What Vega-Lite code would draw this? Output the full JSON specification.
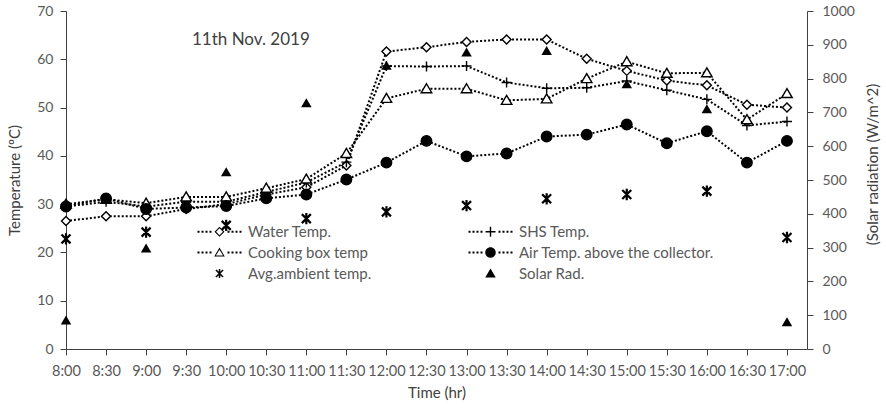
{
  "$schema": "https://vega.github.io/schema/vega-lite/v6.json",
  "description": "Temperatures and solar radiation on 11th Nov. 2019.",
  "width": 741,
  "height": 338,
  "autosize": {"type": "none"},
  "padding": {"left": 66, "top": 11, "right": 79, "bottom": 60},
  "background": "white",
  "title": {
    "text": "11th Nov. 2019",
    "anchor": "start",
    "frame": "group",
    "offset": 0,
    "dx": 126,
    "dy": 45,
    "font": "Lato",
    "fontSize": 17,
    "fontWeight": "normal",
    "color": "#404040"
  },
  "data": {
    "values": [
      {"time": 8, "series": "Water Temp.", "value": 26.5},
      {"time": 8.5, "series": "Water Temp.", "value": 27.5},
      {"time": 9, "series": "Water Temp.", "value": 27.5},
      {"time": 9.5, "series": "Water Temp.", "value": 29.0},
      {"time": 10, "series": "Water Temp.", "value": 30.0},
      {"time": 10.5, "series": "Water Temp.", "value": 32.0},
      {"time": 11, "series": "Water Temp.", "value": 33.5},
      {"time": 11.5, "series": "Water Temp.", "value": 38.0},
      {"time": 12, "series": "Water Temp.", "value": 61.6},
      {"time": 12.5, "series": "Water Temp.", "value": 62.5},
      {"time": 13, "series": "Water Temp.", "value": 63.6},
      {"time": 13.5, "series": "Water Temp.", "value": 64.1},
      {"time": 14, "series": "Water Temp.", "value": 64.1},
      {"time": 14.5, "series": "Water Temp.", "value": 60.1},
      {"time": 15, "series": "Water Temp.", "value": 57.6},
      {"time": 15.5, "series": "Water Temp.", "value": 55.6},
      {"time": 16, "series": "Water Temp.", "value": 54.6},
      {"time": 16.5, "series": "Water Temp.", "value": 50.6},
      {"time": 17, "series": "Water Temp.", "value": 50.0},
      {"time": 8, "series": "SHS Temp.", "value": 29.5},
      {"time": 8.5, "series": "SHS Temp.", "value": 30.5},
      {"time": 9, "series": "SHS Temp.", "value": 29.5},
      {"time": 9.5, "series": "SHS Temp.", "value": 30.5},
      {"time": 10, "series": "SHS Temp.", "value": 30.5},
      {"time": 10.5, "series": "SHS Temp.", "value": 32.5},
      {"time": 11, "series": "SHS Temp.", "value": 34.5},
      {"time": 11.5, "series": "SHS Temp.", "value": 38.7},
      {"time": 12, "series": "SHS Temp.", "value": 58.6},
      {"time": 12.5, "series": "SHS Temp.", "value": 58.5},
      {"time": 13, "series": "SHS Temp.", "value": 58.6},
      {"time": 13.5, "series": "SHS Temp.", "value": 55.2},
      {"time": 14, "series": "SHS Temp.", "value": 54.0},
      {"time": 14.5, "series": "SHS Temp.", "value": 54.1},
      {"time": 15, "series": "SHS Temp.", "value": 55.5},
      {"time": 15.5, "series": "SHS Temp.", "value": 53.6},
      {"time": 16, "series": "SHS Temp.", "value": 51.7},
      {"time": 16.5, "series": "SHS Temp.", "value": 46.3},
      {"time": 17, "series": "SHS Temp.", "value": 47.1},
      {"time": 8, "series": "Cooking box temp", "value": 30.0},
      {"time": 8.5, "series": "Cooking box temp", "value": 31.0},
      {"time": 9, "series": "Cooking box temp", "value": 30.2},
      {"time": 9.5, "series": "Cooking box temp", "value": 31.5},
      {"time": 10, "series": "Cooking box temp", "value": 31.5},
      {"time": 10.5, "series": "Cooking box temp", "value": 33.3},
      {"time": 11, "series": "Cooking box temp", "value": 35.2},
      {"time": 11.5, "series": "Cooking box temp", "value": 40.5},
      {"time": 12, "series": "Cooking box temp", "value": 51.9},
      {"time": 12.5, "series": "Cooking box temp", "value": 53.9},
      {"time": 13, "series": "Cooking box temp", "value": 53.9},
      {"time": 13.5, "series": "Cooking box temp", "value": 51.5},
      {"time": 14, "series": "Cooking box temp", "value": 51.8},
      {"time": 14.5, "series": "Cooking box temp", "value": 56.0},
      {"time": 15, "series": "Cooking box temp", "value": 59.5},
      {"time": 15.5, "series": "Cooking box temp", "value": 57.1},
      {"time": 16, "series": "Cooking box temp", "value": 57.2},
      {"time": 16.5, "series": "Cooking box temp", "value": 47.5},
      {"time": 17, "series": "Cooking box temp", "value": 52.9},
      {"time": 8, "series": "Air Temp. above the collector.", "value": 29.5},
      {"time": 8.5, "series": "Air Temp. above the collector.", "value": 31.2},
      {"time": 9, "series": "Air Temp. above the collector.", "value": 29.0},
      {"time": 9.5, "series": "Air Temp. above the collector.", "value": 29.3},
      {"time": 10, "series": "Air Temp. above the collector.", "value": 29.6},
      {"time": 10.5, "series": "Air Temp. above the collector.", "value": 31.2},
      {"time": 11, "series": "Air Temp. above the collector.", "value": 32.0},
      {"time": 11.5, "series": "Air Temp. above the collector.", "value": 35.1},
      {"time": 12, "series": "Air Temp. above the collector.", "value": 38.6},
      {"time": 12.5, "series": "Air Temp. above the collector.", "value": 43.1},
      {"time": 13, "series": "Air Temp. above the collector.", "value": 39.9},
      {"time": 13.5, "series": "Air Temp. above the collector.", "value": 40.5},
      {"time": 14, "series": "Air Temp. above the collector.", "value": 44.0},
      {"time": 14.5, "series": "Air Temp. above the collector.", "value": 44.4},
      {"time": 15, "series": "Air Temp. above the collector.", "value": 46.5},
      {"time": 15.5, "series": "Air Temp. above the collector.", "value": 42.6},
      {"time": 16, "series": "Air Temp. above the collector.", "value": 45.1},
      {"time": 16.5, "series": "Air Temp. above the collector.", "value": 38.6},
      {"time": 17, "series": "Air Temp. above the collector.", "value": 43.1},
      {"time": 8, "series": "Avg.ambient temp.", "value": 22.8},
      {"time": 9, "series": "Avg.ambient temp.", "value": 24.2},
      {"time": 10, "series": "Avg.ambient temp.", "value": 25.6},
      {"time": 11, "series": "Avg.ambient temp.", "value": 27.0},
      {"time": 12, "series": "Avg.ambient temp.", "value": 28.4},
      {"time": 13, "series": "Avg.ambient temp.", "value": 29.7},
      {"time": 14, "series": "Avg.ambient temp.", "value": 31.1},
      {"time": 15, "series": "Avg.ambient temp.", "value": 32.0},
      {"time": 16, "series": "Avg.ambient temp.", "value": 32.7},
      {"time": 17, "series": "Avg.ambient temp.", "value": 23.1},
      {"time": 8, "series": "Solar Rad.", "value": 84},
      {"time": 9, "series": "Solar Rad.", "value": 297},
      {"time": 10, "series": "Solar Rad.", "value": 523},
      {"time": 11, "series": "Solar Rad.", "value": 727},
      {"time": 12, "series": "Solar Rad.", "value": 838},
      {"time": 13, "series": "Solar Rad.", "value": 877},
      {"time": 14, "series": "Solar Rad.", "value": 882},
      {"time": 15, "series": "Solar Rad.", "value": 783},
      {"time": 16, "series": "Solar Rad.", "value": 709},
      {"time": 17, "series": "Solar Rad.", "value": 79}
    ]
  },
  "layer": [
    {
      "layer": [
        {
          "transform": [
            {"filter": {"field": "series", "oneOf": ["Water Temp.", "SHS Temp.", "Cooking box temp", "Air Temp. above the collector."]}}
          ],
          "mark": {"type": "line", "color": "black", "strokeWidth": 2, "strokeDash": [2, 2]},
          "encoding": {
            "x": {
              "field": "time",
              "type": "quantitative",
              "scale": {"domain": [8, 17.25], "nice": false, "zero": false},
              "axis": {
                "title": "Time (hr)",
                "values": [8, 8.5, 9, 9.5, 10, 10.5, 11, 11.5, 12, 12.5, 13, 13.5, 14, 14.5, 15, 15.5, 16, 16.5, 17],
                "labelExpr": "floor(datum.value) + ':' + (datum.value % 1 ? '30' : '00')",
                "labelOverlap": false,
                "labelFlush": false,
                "labelBound": false
              }
            },
            "y": {
              "field": "value",
              "type": "quantitative",
              "scale": {"domain": [0, 70], "nice": false},
              "axis": {"title": "Temperature (ºC)", "values": [0, 10, 20, 30, 40, 50, 60, 70]}
            },
            "detail": {"field": "series"}
          }
        },
        {
          "transform": [{"filter": "datum.series != 'Solar Rad.'"}],
          "mark": {"type": "point", "filled": true, "stroke": "black", "strokeWidth": 1.4, "opacity": 1, "size": 100},
          "encoding": {
            "x": {"field": "time", "type": "quantitative"},
            "y": {"field": "value", "type": "quantitative"},
            "shape": {
              "field": "series",
              "type": "nominal",
              "scale": {
                "domain": ["Water Temp.", "SHS Temp.", "Cooking box temp", "Air Temp. above the collector.", "Avg.ambient temp."],
                "range": [
                  "M0,-0.9L0.9,0L0,0.9L-0.9,0Z",
                  "M-1,0L1,0M0,-1L0,1",
                  "M0,-1L1.05,0.8L-1.05,0.8Z",
                  "M-1.05,0A1.05,1.05,0,1,0,1.05,0A1.05,1.05,0,1,0,-1.05,0Z",
                  "M-0.08,-1L0.08,-1L0.08,1L-0.08,1Z M-0.857,-0.743L-0.743,-0.857L0.857,0.743L0.743,0.857Z M0.743,-0.857L0.857,-0.743L-0.743,0.857L-0.857,0.743Z"
                ]
              },
              "legend": null
            },
            "fill": {
              "field": "series",
              "type": "nominal",
              "scale": {
                "domain": ["Water Temp.", "SHS Temp.", "Cooking box temp", "Air Temp. above the collector.", "Avg.ambient temp."],
                "range": ["white", "transparent", "white", "black", "black"]
              },
              "legend": null
            }
          }
        },
        {
          "mark": {"type": "point", "filled": true, "fill": "black", "opacity": 0, "size": 100},
          "encoding": {
            "shape": {
              "field": "series",
              "type": "nominal",
              "scale": {
                "domain": ["Water Temp.", "Cooking box temp", "Avg.ambient temp.", "SHS Temp.", "Air Temp. above the collector.", "Solar Rad."],
                "range": [
                  "M-4.4,-0.2L-4,-0.2L-4,0.2L-4.4,0.2Z M-3.6,-0.2L-3.2,-0.2L-3.2,0.2L-3.6,0.2Z M-2.8,-0.2L-2.4,-0.2L-2.4,0.2L-2.8,0.2Z M-2,-0.2L-1.6,-0.2L-1.6,0.2L-2,0.2Z M1.6,-0.2L2,-0.2L2,0.2L1.6,0.2Z M2.4,-0.2L2.8,-0.2L2.8,0.2L2.4,0.2Z M3.2,-0.2L3.6,-0.2L3.6,0.2L3.2,0.2Z M4,-0.2L4.4,-0.2L4.4,0.2L4,0.2Z M0,-1L1,0L0,1L-1,0Z M0,-0.68L-0.68,0L0,0.68L0.68,0Z",
                  "M-4.4,-0.2L-4,-0.2L-4,0.2L-4.4,0.2Z M-3.6,-0.2L-3.2,-0.2L-3.2,0.2L-3.6,0.2Z M-2.8,-0.2L-2.4,-0.2L-2.4,0.2L-2.8,0.2Z M-2,-0.2L-1.6,-0.2L-1.6,0.2L-2,0.2Z M1.6,-0.2L2,-0.2L2,0.2L1.6,0.2Z M2.4,-0.2L2.8,-0.2L2.8,0.2L2.4,0.2Z M3.2,-0.2L3.6,-0.2L3.6,0.2L3.2,0.2Z M4,-0.2L4.4,-0.2L4.4,0.2L4,0.2Z M0,-1L1.05,0.8L-1.05,0.8Z M0,-0.55L-0.72,0.62L0.72,0.62Z",
                  "M-4.4,0L-4.4,0Z M4.4,0L4.4,0Z M-0.15,-0.9L0.15,-0.9L0.15,0.9L-0.15,0.9Z M-0.82,-0.6L-0.6,-0.82L0.82,0.6L0.6,0.82Z M0.6,-0.82L0.82,-0.6L-0.6,0.82L-0.82,0.6Z",
                  "M-4.4,-0.2L-4,-0.2L-4,0.2L-4.4,0.2Z M-3.6,-0.2L-3.2,-0.2L-3.2,0.2L-3.6,0.2Z M-2.8,-0.2L-2.4,-0.2L-2.4,0.2L-2.8,0.2Z M-2,-0.2L-1.6,-0.2L-1.6,0.2L-2,0.2Z M1.6,-0.2L2,-0.2L2,0.2L1.6,0.2Z M2.4,-0.2L2.8,-0.2L2.8,0.2L2.4,0.2Z M3.2,-0.2L3.6,-0.2L3.6,0.2L3.2,0.2Z M4,-0.2L4.4,-0.2L4.4,0.2L4,0.2Z M-1,-0.14L1,-0.14L1,0.14L-1,0.14Z M-0.14,-1L0.14,-1L0.14,1L-0.14,1Z",
                  "M-4.4,-0.2L-4,-0.2L-4,0.2L-4.4,0.2Z M-3.6,-0.2L-3.2,-0.2L-3.2,0.2L-3.6,0.2Z M-2.8,-0.2L-2.4,-0.2L-2.4,0.2L-2.8,0.2Z M-2,-0.2L-1.6,-0.2L-1.6,0.2L-2,0.2Z M1.6,-0.2L2,-0.2L2,0.2L1.6,0.2Z M2.4,-0.2L2.8,-0.2L2.8,0.2L2.4,0.2Z M3.2,-0.2L3.6,-0.2L3.6,0.2L3.2,0.2Z M4,-0.2L4.4,-0.2L4.4,0.2L4,0.2Z M-1.05,0A1.05,1.05,0,1,0,1.05,0A1.05,1.05,0,1,0,-1.05,0Z",
                  "M-4.4,0L-4.4,0Z M4.4,0L4.4,0Z M0,-1L1.05,0.8L-1.05,0.8Z"
                ]
              },
              "legend": {
                "title": null,
                "orient": "none",
                "legendX": 146,
                "legendY": 213,
                "columns": 2,
                "columnPadding": 96,
                "rowPadding": 5,
                "symbolSize": 100,
                "symbolFillColor": "black",
                "symbolStrokeColor": "transparent",
                "symbolStrokeWidth": 0,
                "symbolOpacity": 1,
                "labelOffset": 21,
                "labelFont": "Lato",
                "labelFontSize": 15,
                "labelColor": "#595959",
                "labelLimit": 300,
                "padding": 0
              }
            }
          }
        }
      ],
      "resolve": {"scale": {"shape": "independent", "fill": "independent"}, "legend": {"shape": "independent"}}
    },
    {
      "transform": [{"filter": "datum.series == 'Solar Rad.'"}],
      "mark": {"type": "point", "shape": "M0,-1L1.05,0.8L-1.05,0.8Z", "filled": true, "color": "black", "opacity": 1, "size": 100},
      "encoding": {
        "x": {"field": "time", "type": "quantitative"},
        "y": {
          "field": "value",
          "type": "quantitative",
          "scale": {"domain": [0, 1000], "nice": false},
          "axis": {
            "title": "(Solar radiation (W/m^2)",
            "orient": "right",
            "format": "d",
            "titleY": 153,
            "values": [0, 100, 200, 300, 400, 500, 600, 700, 800, 900, 1000]
          }
        }
      }
    }
  ],
  "resolve": {"scale": {"y": "independent"}},
  "config": {
    "font": "Lato",
    "view": {"stroke": null},
    "axis": {
      "grid": false,
      "domainColor": "#404040",
      "tickColor": "#404040",
      "labelColor": "#595959",
      "titleColor": "#404040",
      "labelFont": "Lato",
      "titleFont": "Lato",
      "labelFontSize": 14,
      "titleFontSize": 15,
      "titleFontWeight": "normal",
      "tickSize": 6
    },
    "axisBottom": {"labelPadding": 9, "titlePadding": 8, "labelFontSize": 14.5},
    "axisLeft": {"labelPadding": 7, "titlePadding": 14},
    "axisRight": {"labelPadding": 9, "titlePadding": 26, "titleAngle": -90}
  }
}
